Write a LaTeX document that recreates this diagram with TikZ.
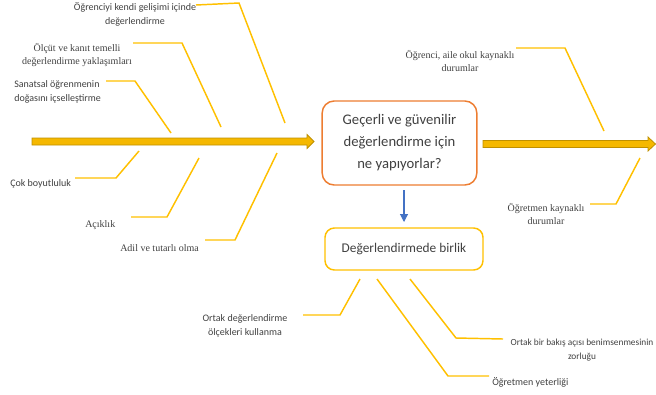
\documentclass[tikz,border=0pt]{standalone}
\usepackage{fontspec}
\setmainfont{Carlito}
\newfontfamily\tms{Liberation Serif}
\usetikzlibrary{arrows.meta}
\definecolor{bonecol}{HTML}{FFC000}
\definecolor{spinefill}{HTML}{F5B800}
\definecolor{spinedraw}{HTML}{BF9000}
\definecolor{boxorange}{HTML}{ED7D31}
\definecolor{arrowblue}{HTML}{4472C4}
\definecolor{txt}{HTML}{404040}
\begin{document}
\begin{tikzpicture}[x=0.75pt,y=-0.75pt,
  bone/.style={draw=bonecol, line width=1.1pt},
  spine/.style={fill=spinefill, draw=spinedraw, line width=0.6pt, line join=miter},
  lab/.style={font=\fontsize{7.5}{10.5}\selectfont, align=center, inner sep=0pt, text=txt},
  tlab/.style={font=\tms\fontsize{7.5}{9.75}\selectfont, align=center, inner sep=0pt, text=txt},
  mainbox/.style={draw=boxorange, line width=1.1pt, rounded corners=9pt, align=center,
    font=\fontsize{11}{16.5}\selectfont, text=txt, minimum width=116pt, minimum height=63pt},
  subbox/.style={draw=bonecol, line width=1.1pt, rounded corners=7pt, align=center,
    font=\fontsize{10}{12}\selectfont, text=txt, minimum width=118.5pt, minimum height=31.5pt}]
\useasboundingbox (0,0) rectangle (656,394);

% spines
\path[spine] (32,138) -- (307,138) -- (307,134.5) -- (314,141.5) -- (307,148.5) -- (307,145) -- (32,145) -- cycle;
\path[spine] (483,140.5) -- (648,140.5) -- (648,137) -- (655.5,144) -- (648,151) -- (648,147.5) -- (483,147.5) -- cycle;

% boxes
\node[mainbox] (q) at (399.5,143) {Geçerli ve güvenilir\\değerlendirme için\\ne yapıyorlar?};
\node[subbox] (b) at (404,249) {Değerlendirmede birlik};
\coordinate (qa) at (404,190);
\coordinate (qb) at (404,222);
\draw[arrowblue, line width=0.8pt, -{Triangle[length=6pt,width=6pt]}] (qa) -- (qb);

% labels
\node[lab] (l1) at (135,14) {Öğrenciyi kendi gelişimi içinde\\değerlendirme};
\node[tlab] (l2) at (77,55.5) {Ölçüt ve kanıt temelli\\değerlendirme yaklaşımları};
\node[lab, anchor=west, align=left] (l3) at (14,91.5) {Sanatsal öğrenmenin\\doğasını içselleştirme};
\node[lab, anchor=west] (l4) at (10,184) {Çok boyutluluk};
\node[tlab, anchor=west] (l5) at (85,225) {Açıklık};
\node[tlab, anchor=west] (l6) at (120,248) {Adil ve tutarlı olma};
\node[tlab] (l7) at (460,61) {Öğrenci, aile okul kaynaklı\\durumlar};
\node[tlab] (l8) at (546,213.5) {Öğretmen kaynaklı\\durumlar};
\node[lab] (l9) at (245,325.5) {Ortak değerlendirme\\ölçekleri kullanma};
\node[lab, anchor=west] (l10) at (492,382) {Öğretmen yeterliği};
\node[lab, font=\fontsize{7}{10.5}\selectfont] (l11) at (582,350) {Ortak bir bakış açısı benimsenmesinin\\zorluğu};

% bones: spine point, elbow, free end
\coordinate (s1) at (285,123); \coordinate (e1) at (239,3);   \coordinate (f1) at (196,5);
\coordinate (s2) at (221,127); \coordinate (e2) at (182,43);  \coordinate (f2) at (133,43);
\coordinate (s3) at (171,133); \coordinate (e3) at (135,81);  \coordinate (f3) at (106,81);
\coordinate (s4) at (139,151); \coordinate (e4) at (116,178); \coordinate (f4) at (75,178);
\coordinate (s5) at (199,158); \coordinate (e5) at (167,217); \coordinate (f5) at (131,217);
\coordinate (s6) at (277,153); \coordinate (e6) at (235,240); \coordinate (f6) at (205,240);
\coordinate (s7) at (604,131); \coordinate (e7) at (565,48);  \coordinate (f7) at (516,48);
\coordinate (s8) at (640,158); \coordinate (e8) at (616,204); \coordinate (f8) at (590,204);
\coordinate (s9) at (360,279); \coordinate (e9) at (340,315); \coordinate (f9) at (303,315);
\coordinate (s10) at (377,279); \coordinate (e10) at (448,376); \coordinate (f10) at (489,376);
\coordinate (s11) at (410,279); \coordinate (e11) at (456,338); \coordinate (f11) at (503,339);
\foreach \i in {1,...,11} \draw[bone] (s\i) -- (e\i) -- (f\i);
\end{tikzpicture}
\end{document}
